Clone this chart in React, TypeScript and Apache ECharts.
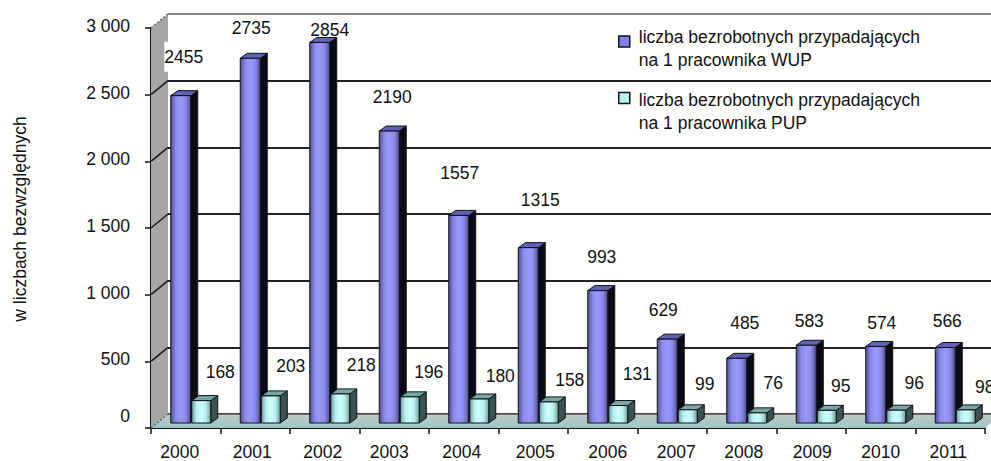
import React, { useEffect, useRef } from "react";
import * as echarts from "echarts";

const FONT = "Liberation Sans";
const FS = 17.5;
const categories = ["2000","2001","2002","2003","2004","2005","2006","2007","2008","2009","2010","2011"];
const wupName = "liczba bezrobotnych przypadających\nna 1 pracownika WUP";
const pupName = "liczba bezrobotnych przypadających\nna 1 pracownika PUP";
const wupValues = [2455,2735,2854,2190,1557,1315,993,629,485,583,574,566];
const pupValues = [168,203,218,196,180,158,131,99,76,95,96,98];
const yTicks = [0,500,1000,1500,2000,2500,3000];
const yTitle = "w liczbach bezwzględnych";

// label nudges relative to each bar top (the source has hand-placed labels)
const wupLabelDx = [3,1,10,3,1,12,4,-4,8,3,6,2];
const wupLabelDy = [-39,-30,-12.5,-34,-42,-48,-34,-29,-35,-24,-23.5,-26.5];
const pupLabelDx = [19,20,21,19,21,21,19,17,16,14,18,19];
const pupLabelDy = [-29,-30,-29,-25,-23,-22,-31.5,-26,-30,-24,-27,-23];
const xLabelDx = [-6,-3,-2,-5,-2,2,5,4,2,1,0,-2];

const grad = (stops: string[]) =>
  new echarts.graphic.LinearGradient(0, 0, 1, 0, stops.map((color, i) => ({ offset: i / (stops.length - 1), color })));

const bar3d = (
  values: number[],
  fromCenter: number,
  width: number,
  front: string[],
  side: string,
  top: string,
  labelDx: number[],
  labelDy: number[],
) => (params: any, api: any) => {
  const i = params.dataIndex;
  const base = api.coord([api.value(0), 0]);
  const head = api.coord([api.value(0), api.value(1)]);
  const x0 = base[0] + fromCenter;
  const x1 = x0 + width;
  const yb = base[1] - 5;
  const yt = head[1] - 5;
  const d = 7;
  const r = 5;
  const stroke = { stroke: "#101018", lineWidth: 1 };
  const children: any[] = [
    { type: "polygon", shape: { points: [[x1, yt], [x1 + d, yt - r], [x1 + d, yb - r], [x1, yb]] }, style: { fill: side, ...stroke } },
    { type: "polygon", shape: { points: [[x0, yt], [x0 + d, yt - r], [x1 + d, yt - r], [x1, yt]] }, style: { fill: top, ...stroke } },
    { type: "rect", shape: { x: x0, y: yt, width: x1 - x0, height: yb - yt }, style: { fill: grad(front), ...stroke } },
  ];
  const first = i === 0 && values === wupValues;
  children.push({
    type: "text",
    x: (x0 + x1) / 2 + labelDx[i],
    y: yt + labelDy[i],
    z2: 20,
    style: {
      text: String(values[i]),
      font: `${FS}px "${FONT}"`,
      fill: "#111",
      align: "center",
      verticalAlign: "middle",
      ...(first ? { backgroundColor: "#fff", padding: [3, 0, 9, 0] } : {}),
    },
  });
  return { type: "group", children };
};

const frame = (params: any, api: any) => {
  const cs = params.coordSys;
  const dx = 17;
  const dy = 14;
  const left = cs.x;
  const right = cs.x + cs.width;
  const top = cs.y;
  const bottom = cs.y + cs.height;
  const children: any[] = [
    {
      type: "polygon",
      shape: { points: [[left, bottom], [left, top], [left + dx, top - dy], [left + dx, bottom - dy]] },
      style: { fill: "#a6a6a6" },
    },
    {
      type: "polygon",
      shape: { points: [[left, bottom], [right, bottom], [right + dx, bottom - dy], [left + dx, bottom - dy]] },
      style: {
        fill: new echarts.graphic.LinearGradient(0, 0, 0, 1, [
          { offset: 0, color: "#c4c8c6" },
          { offset: 1, color: "#98c8c6" },
        ]),
      },
    },
  ];
  yTicks.forEach((v) => {
    const y = api.coord([0, v])[1];
    const edge = v === 0 || v === 3000;
    children.push({
      type: "line",
      shape: { x1: left, y1: y, x2: left + dx, y2: y - dy },
      style: edge
        ? { stroke: "#666", lineWidth: 1.5, lineDash: [2, 2] }
        : { stroke: "#1a1a1a", lineWidth: 1.5 },
    });
  });
  children.push({
    type: "line",
    shape: { x1: left + dx, y1: bottom - dy, x2: right + dx, y2: bottom - dy },
    style: { stroke: "#555", lineWidth: 1.5 },
  });
  return { type: "group", children };
};

const xRich: Record<string, any> = {};
xLabelDx.forEach((d, i) => {
  xRich["p" + i] = {
    fontSize: FS,
    fontFamily: FONT,
    color: "#111",
    lineHeight: 14,
    padding: d < 0 ? [0, -2 * d, 0, 0] : [0, 0, 0, 2 * d],
  };
});

export default function App() {
  const ref = useRef<HTMLDivElement>(null);
  useEffect(() => {
    const chart = echarts.init(ref.current!, null, { renderer: "svg" });
    chart.setOption({
      animation: false,
      backgroundColor: "#fff",
      grid: [
        { left: 151, top: 28, width: 834, height: 400, outerBoundsMode: "none" },
        { left: 168, top: 14, right: 0, height: 400, outerBoundsMode: "none" },
      ],
      xAxis: [
        {
          type: "category",
          gridIndex: 0,
          data: categories,
          boundaryGap: true,
          axisLine: { lineStyle: { color: "#111", width: 2 } },
          axisTick: { show: true, alignWithLabel: false, length: 6, lineStyle: { color: "#111", width: 1.5 } },
          axisLabel: {
            margin: 17,
            interval: 0,
            formatter: (value: string) => `{p${categories.indexOf(value)}|${value}}`,
            rich: xRich,
          },
        },
        { type: "category", gridIndex: 1, data: categories, show: false },
      ],
      yAxis: [
        {
          type: "value",
          gridIndex: 0,
          min: 0,
          max: 3000,
          interval: 500,
          axisLine: { show: true, lineStyle: { color: "#111", width: 2 } },
          axisTick: { show: true, length: 6, lineStyle: { color: "#111", width: 1.5 } },
          splitLine: { show: false },
          axisLabel: {
            margin: 21,
            formatter: (v: number) => {
              const s = v >= 1000 ? `${Math.floor(v / 1000)} ${String(v % 1000).padStart(3, "0")}` : String(v);
              return v === 0 ? `{z|${s}}` : `{n|${s}}`;
            },
            rich: {
              n: { fontSize: FS, fontFamily: FONT, color: "#111", padding: [0, 0, 4, 0] },
              z: { fontSize: FS, fontFamily: FONT, color: "#111", padding: [0, 0, 24, 0] },
            },
          },
        },
        {
          type: "value",
          gridIndex: 1,
          min: 0,
          max: 3000,
          interval: 500,
          axisLine: { show: false },
          axisTick: { show: false },
          axisLabel: { show: false },
          splitLine: {
            show: true,
            lineStyle: { color: ["#222", "#222", "#222", "#222", "#222", "#222", "#888"], width: 2 },
          },
        },
      ],
      legend: {
        show: true,
        orient: "vertical",
        left: 618,
        top: 25,
        itemWidth: 15,
        itemHeight: 37,
        itemGap: 17,
        padding: 0,
        selectedMode: false,
        symbolKeepAspect: false,
        textStyle: { fontSize: FS, fontFamily: FONT, color: "#111", lineHeight: 23 },
        data: [
          {
            name: wupName,
            icon: "path://M0 0M0 6.5h11v11h-11zM15 37",
            itemStyle: { color: "#8080e8", borderColor: "#101018", borderWidth: 1.5 },
          },
          {
            name: pupName,
            icon: "path://M0 0h11v11h-11zM15 37",
            itemStyle: { color: "#b8f4f0", borderColor: "#101018", borderWidth: 1.5 },
          },
        ],
      },
      graphic: [
        {
          type: "text",
          x: 20,
          y: 219,
          rotation: Math.PI / 2,
          style: {
            text: yTitle,
            font: `${FS}px "${FONT}"`,
            fill: "#111",
            align: "center",
            verticalAlign: "middle",
          },
        },
      ],
      series: [
        {
          type: "custom",
          name: "frame",
          coordinateSystem: "cartesian2d",
          xAxisIndex: 0,
          yAxisIndex: 0,
          z: 1,
          clip: false,
          silent: true,
          data: [[0, 0]],
          renderItem: frame,
        },
        {
          type: "custom",
          name: wupName,
          coordinateSystem: "cartesian2d",
          xAxisIndex: 0,
          yAxisIndex: 0,
          z: 3,
          clip: false,
          itemStyle: { color: "#8080e8" },
          data: wupValues.map((v, i) => [i, v]),
          encode: { x: 0, y: 1 },
          renderItem: bar3d(
            wupValues, -15, 20,
            ["#50508c", "#8a8ae8", "#9a9aff", "#8a8ae8", "#50508c"],
            "#0b0b14", "#6262b4", wupLabelDx, wupLabelDy,
          ),
        },
        {
          type: "custom",
          name: pupName,
          coordinateSystem: "cartesian2d",
          xAxisIndex: 0,
          yAxisIndex: 0,
          z: 4,
          clip: false,
          itemStyle: { color: "#b8f4f0" },
          data: pupValues.map((v, i) => [i, v]),
          encode: { x: 0, y: 1 },
          renderItem: bar3d(
            pupValues, 6, 19,
            ["#6e9c9a", "#b6eeea", "#ccffff", "#b6eeea", "#6e9c9a"],
            "#3a5250", "#78a8a4", pupLabelDx, pupLabelDy,
          ),
        },
      ],
    });
    return () => chart.dispose();
  }, []);
  return (
    <div
      ref={ref}
      style={{ position: "fixed", left: 0, top: 0, width: 991, height: 461 }}
    />
  );
}
